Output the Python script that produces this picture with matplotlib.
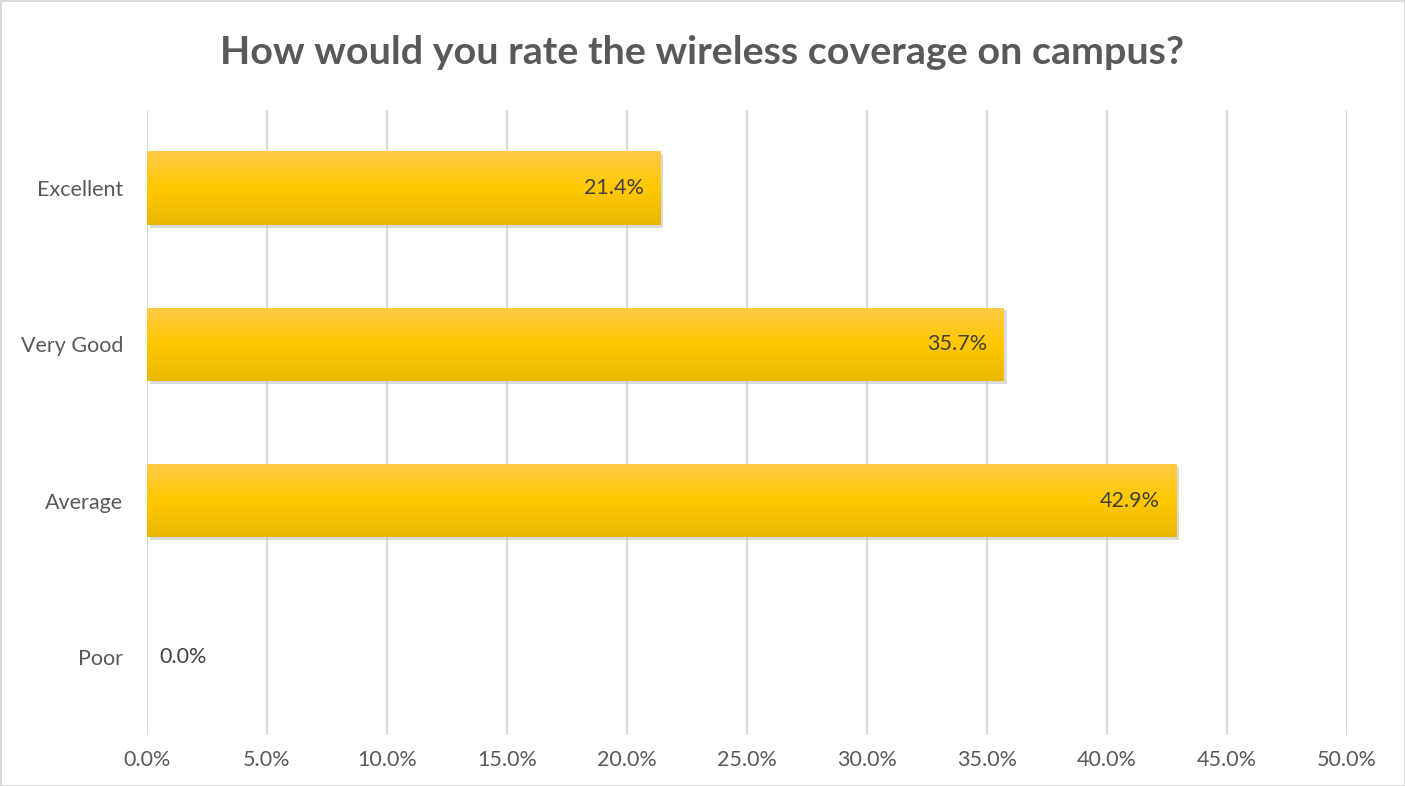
import numpy as np
import matplotlib.pyplot as plt
import matplotlib.patheffects as pe
from matplotlib.ticker import FuncFormatter
from matplotlib.colors import LinearSegmentedColormap

categories = ["Poor", "Average", "Very Good", "Excellent"]
values = [0.0, 42.9, 35.7, 21.4]
xticks = [0, 5, 10, 15, 20, 25, 30, 35, 40, 45, 50]

plt.rcParams['font.family'] = ['Lato', 'DejaVu Sans']

fig = plt.figure(figsize=(14.05, 7.86), dpi=100)
fig.patch.set_edgecolor('#D9D9D9')
fig.patch.set_linewidth(2)
ax = fig.add_axes([0.1046, 0.0649, 0.8541, 0.7951])

y = np.arange(len(categories))
bars = ax.barh(y, values, height=0.47, color='#FFC700', zorder=3)

# vertical gradient on each bar
grad = np.linspace(0, 1, 256).reshape(-1, 1)
cmap = LinearSegmentedColormap.from_list('gold', ['#E8B800', '#FFC800', '#FFCA4A'])
for b in bars:
    if b.get_width() <= 0:
        b.set_visible(False)
        continue
    b.set_path_effects([pe.SimplePatchShadow(offset=(2, -2), shadow_rgbFace='#B0B0B0', alpha=0.45), pe.Normal()])
    x0, y0, w, h = b.get_x(), b.get_y(), b.get_width(), b.get_height()
    im = ax.imshow(grad, cmap=cmap, aspect='auto', extent=(x0, x0 + w, y0, y0 + h),
                   origin='lower', zorder=4)
    im.set_clip_path(b)

for yi, v in zip(y, values):
    if v > 0:
        ax.text(v - 0.7, yi, f"{v:.1f}%", ha='right', va='center', fontsize=15.5, color='#404040', zorder=5)
    else:
        ax.text(v + 0.5, yi, f"{v:.1f}%", ha='left', va='center', fontsize=15.5, color='#404040', zorder=5)

ax.set_xlim(0, 50)
ax.set_ylim(-0.5, len(categories) - 0.5)
ax.set_xticks(xticks)
ax.xaxis.set_major_formatter(FuncFormatter(lambda v, p: f"{v:.1f}%"))
ax.set_yticks(y)
ax.set_yticklabels(categories)
ax.tick_params(length=0, labelsize=15.5, colors='#595959', pad=11)
ax.tick_params(axis='y', pad=17)
ax.grid(axis='x', color='#D9D9D9', linewidth=1.5, zorder=0)
for s in ax.spines.values():
    s.set_visible(False)

fig.suptitle("How would you rate the wireless coverage on campus?", x=0.5, y=0.955,
             fontsize=28.4, fontweight='bold', color='#595959')

fig.savefig('out.png', dpi=100, edgecolor=fig.get_edgecolor())
